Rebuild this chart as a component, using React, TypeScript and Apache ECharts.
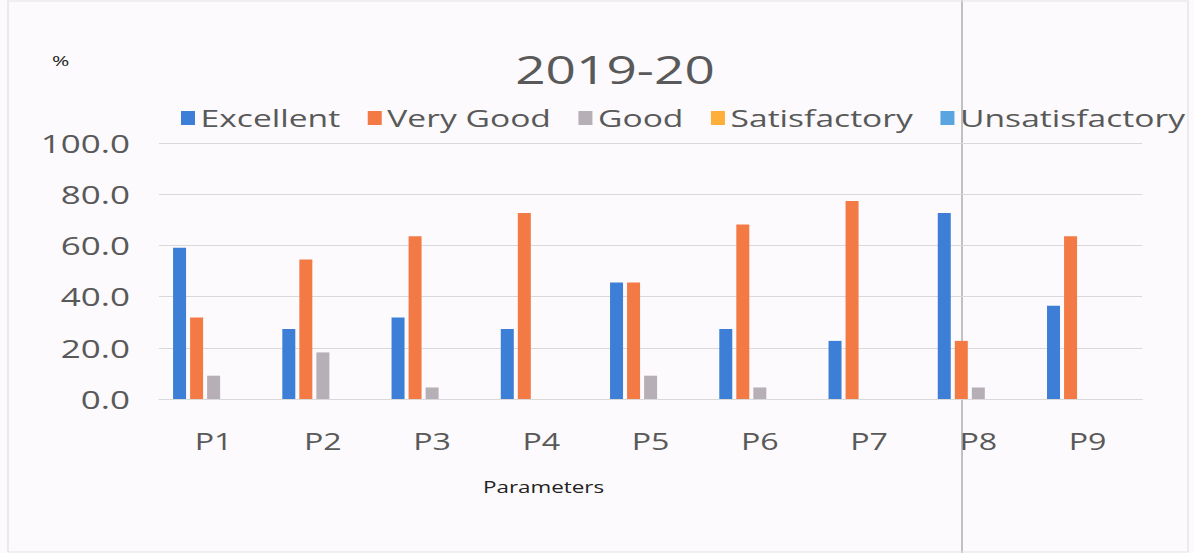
import React, { useEffect, useRef } from "react";
import * as echarts from "echarts";

const categories = ["P1", "P2", "P3", "P4", "P5", "P6", "P7", "P8", "P9"];
const excellent = [59.1, 27.3, 31.8, 27.3, 45.5, 27.3, 22.7, 72.7, 36.4];
const veryGood = [31.8, 54.5, 63.6, 72.7, 45.5, 68.2, 77.3, 22.7, 63.6];
const good = [9.1, 18.2, 4.5, 0, 9.1, 4.5, 0, 4.5, 0];
const satisfactory = [0, 0, 0, 0, 0, 0, 0, 0, 0];
const unsatisfactory = [0, 0, 0, 0, 0, 0, 0, 0, 0];
const yTicks = [0, 20, 40, 60, 80, 100];

const FONT = "'Open Sans', 'Noto Sans', sans-serif";
// the reference text is horizontally stretched; render narrower and stretch
const S = 1.4;
const W = 1194;
const H = 553;
const sx = (v: number) => v / S;

export default function App() {
  const ref = useRef<HTMLDivElement>(null);
  useEffect(() => {
    const chart = echarts.init(ref.current!, null, { renderer: "svg" });
    const mk = (name: string, data: number[], color: string) => ({
      name,
      type: "bar",
      data,
      barWidth: sx(13),
      barGap: "31%",
      itemStyle: { color },
    });
    chart.setOption({
      animation: false,
      backgroundColor: "#fcfafc",
      textStyle: { fontFamily: FONT },
      title: {
        text: "2019-20",
        left: sx(608),
        textAlign: "center",
        top: 46,
        textStyle: { fontSize: 38, fontWeight: "normal", color: "#595959", fontFamily: FONT },
      },
      legend: {
        top: 106,
        left: sx(181),
        width: sx(1010),
        padding: 0,
        itemWidth: sx(14),
        itemHeight: 14,
        itemGap: sx(27.5),
        icon: "rect",
        textStyle: { fontSize: 24, color: "#595959", fontFamily: FONT, padding: [0, 0, 0, -1] },
      },
      grid: { left: sx(159), right: sx(52), top: 143, bottom: 154 },
      xAxis: {
        type: "category",
        data: categories,
        axisTick: { show: false },
        axisLine: { lineStyle: { color: "#d9d9d9" } },
        axisLabel: { fontSize: 23, color: "#595959", margin: 30, fontFamily: FONT },
      },
      yAxis: {
        type: "value",
        min: yTicks[0],
        max: yTicks[yTicks.length - 1],
        interval: 20,
        axisLabel: {
          fontSize: 25,
          color: "#595959",
          margin: sx(29),
          fontFamily: FONT,
          formatter: (v: number) => v.toFixed(1),
        },
        splitLine: { lineStyle: { color: "#d9d9d9" } },
      },
      graphic: [
        { type: "text", left: sx(52), top: 53, style: { text: "%", fontSize: 15, fill: "#222", fontFamily: FONT } },
        { type: "text", left: sx(483), top: 479, style: { text: "Parameters", fontSize: 16, fill: "#222", fontFamily: FONT } },
        { type: "line", shape: { x1: sx(962), y1: 0, x2: sx(962), y2: H }, style: { stroke: "#a8a8a8", lineWidth: 1 } },
        { type: "rect", shape: { x: sx(8), y: 1, width: sx(1180), height: 551 }, style: { fill: "none", stroke: "#e6e2e6", lineWidth: 1 } },
      ],
      series: [
        mk("Excellent", excellent, "#3d7fd6"),
        mk("Very Good", veryGood, "#f47a45"),
        mk("Good", good, "#b6afb6"),
        mk("Satisfactory", satisfactory, "#ffae3a"),
        mk("Unsatisfactory", unsatisfactory, "#5aa5e0"),
      ],
    });
    return () => chart.dispose();
  }, []);
  return (
    <div
      ref={ref}
      style={{
        position: "fixed",
        left: 0,
        top: 0,
        width: W / S,
        height: H,
        transform: `scaleX(${S})`,
        transformOrigin: "0 0",
      }}
    />
  );
}
